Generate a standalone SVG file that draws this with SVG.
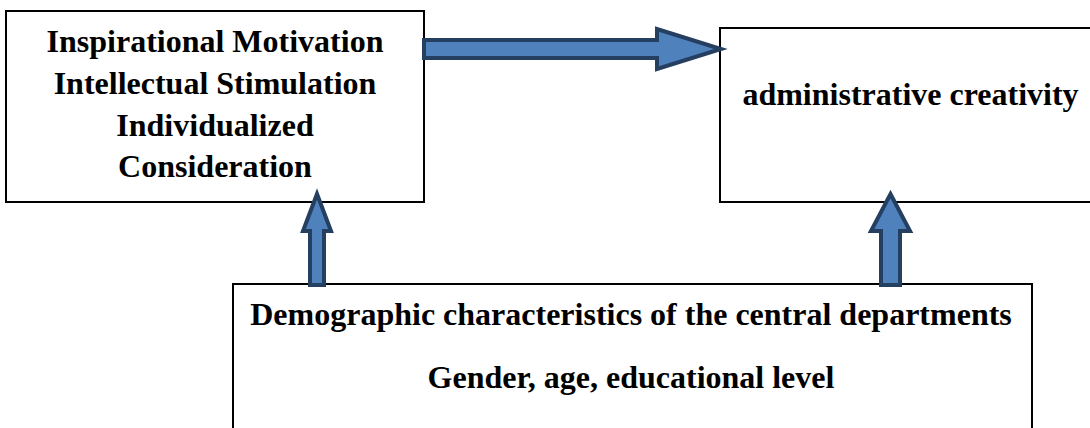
<svg xmlns="http://www.w3.org/2000/svg" width="1090" height="428" viewBox="0 0 1090 428">
<style>
.box{fill:#fff;stroke:#000;stroke-width:2}
.t{font-family:"Liberation Serif","Times New Roman",serif;font-weight:bold;font-size:32px;fill:#000;text-anchor:middle}
.arr{fill:#4F81BD;stroke:#243F60;stroke-width:4;stroke-linejoin:miter;stroke-miterlimit:10}
</style>
<rect width="1090" height="428" fill="#fff"/>
<g id="node-leadership">
<rect class="box" x="6" y="11" width="418" height="191"/>
<text class="t" x="215" y="52">Inspirational Motivation</text>
<text class="t" x="215" y="93.5">Intellectual Stimulation</text>
<text class="t" x="215" y="135.5">Individualized</text>
<text class="t" x="215" y="177">Consideration</text>
</g>
<g id="node-creativity">
<rect class="box" x="720" y="28" width="390" height="174"/>
<text class="t" x="910.5" y="105">administrative creativity</text>
</g>
<g id="node-demographic">
<rect class="box" x="233" y="284" width="799" height="160"/>
<text class="t" x="631" y="325">Demographic characteristics of the central departments</text>
<text class="t" x="631" y="388">Gender, age, educational level</text>
</g>
<g id="connectors">
<polygon class="arr" points="424,40 657,40 657,29 721,49 657,69 657,58 424,58"/>
<polygon class="arr" points="310,285 310,231 303,231 317,194 331,231 324,231 324,285"/>
<polygon class="arr" points="881,285 881,231 871,231 890.5,194 910,231 900,231 900,285"/>
</g>
</svg>
